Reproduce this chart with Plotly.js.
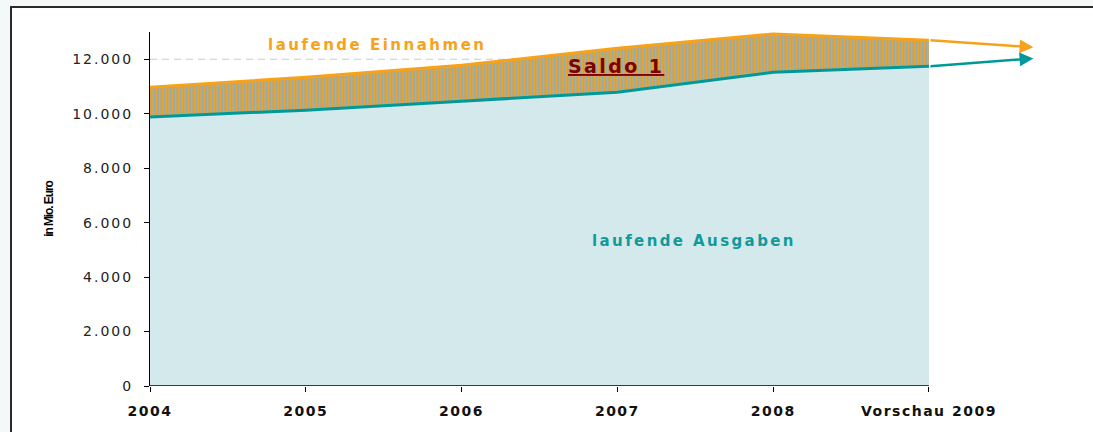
<!DOCTYPE html>
<html>
<head>
<meta charset="utf-8">
<script src="https://cdn.plot.ly/plotly-3.0.1.min.js"></script>
<style>
  html, body { margin:0; padding:0; background:#F3F8F8; width:1093px; height:432px; overflow:hidden; }
  #frame { position:absolute; left:10px; top:6px; width:1100px; height:440px; background:#ffffff; border:2px solid #2b2b2b; }
  #chart { position:absolute; left:0; top:0; width:1093px; height:432px; }
  .xtick text { letter-spacing:1.5px; }
  .ytick text { letter-spacing:2px; }
  .ytitle { letter-spacing:-1.1px; }
</style>
</head>
<body>
<div id="frame"></div>
<div id="chart"></div>
<script>
// Data (Mio. Euro)
const years = [2004, 2005, 2006, 2007, 2008, 2009];
const yearLabels = ['2004', '2005', '2006', '2007', '2008', 'Vorschau 2009'];
const einnahmen = [10970, 11340, 11780, 12400, 12930, 12700];   // laufende Einnahmen
const ausgaben  = [9880, 10130, 10460, 10790, 11520, 11740];    // laufende Ausgaben
// Trend arrows beyond the forecast year
const trendYear = 2009.67;
const einnahmenTrend = 12440;
const ausgabenTrend = 12030;
// y-axis grid values
const gridValues = [2000, 4000, 6000, 8000, 10000, 12000];

const orange = '#F7A21B';
const teal = '#00999A';

const traces = [
  {
    x: years, y: ausgaben, type: 'scatter', mode: 'lines',
    name: 'laufende Ausgaben',
    line: { color: teal, width: 3 },
    fill: 'tozeroy', fillcolor: '#D4E9EC',
    hoverinfo: 'skip', showlegend: false
  },
  {
    x: years, y: einnahmen, type: 'scatter', mode: 'lines',
    name: 'laufende Einnahmen',
    line: { color: orange, width: 3 },
    fill: 'tonexty',
    fillpattern: { shape: '|', bgcolor: orange, fgcolor: '#93ACAE', size: 3.2, solidity: 0.55 },
    hoverinfo: 'skip', showlegend: false
  }
];

const last = years.length - 1;
const shapes = gridValues.map(v => ({
  type: 'line', xref: 'x', yref: 'y', x0: years[0], x1: years[last], y0: v, y1: v,
  line: { color: '#C9C9C9', width: 1, dash: '7px,5px' }, layer: 'below'
}));
shapes.push({ type: 'line', xref: 'x', yref: 'y', x0: years[0], x1: years[last], y0: 0, y1: 0,
  line: { color: '#000', width: 1.5 }, layer: 'above' });

const layout = {
  width: 1093, height: 432,
  margin: { l: 150, r: 55, t: 32, b: 46 },
  paper_bgcolor: 'rgba(0,0,0,0)',
  plot_bgcolor: 'rgba(0,0,0,0)',
  separators: ',.',
  font: { family: 'DejaVu Sans, Arial, sans-serif', color: '#1a1a1a' },
  xaxis: {
    range: [2004, 2009.7],
    tickvals: years, ticktext: yearLabels,
    ticks: 'outside', ticklen: 5, tickcolor: '#000', tickwidth: 1,
    ticklabelstandoff: 7,
    tickfont: { family: 'DejaVu Sans, Arial, sans-serif', size: 14, weight: 'bold', color: '#111' },
    showline: false, showgrid: false, zeroline: false, fixedrange: true
  },
  yaxis: {
    range: [0, 13000], dtick: 2000, tick0: 0,
    tickformat: ',d',
    ticks: 'outside', ticklen: 5, tickcolor: '#000', tickwidth: 1,
    ticklabelstandoff: 8,
    tickfont: { family: 'DejaVu Sans, Arial, sans-serif', size: 14, color: '#222' },
    showline: true, linecolor: '#000', linewidth: 1,
    showgrid: false, zeroline: false, fixedrange: true,
    title: { text: 'in Mio. Euro', standoff: 16,
             font: { family: 'Liberation Sans, Arial, sans-serif', size: 12, weight: 'bold', color: '#000' } }
  },
  shapes: shapes,
  annotations: [
    { x: trendYear, y: einnahmenTrend, ax: years[last], ay: einnahmen[last], axref: 'x', ayref: 'y',
      xref: 'x', yref: 'y', text: '', showarrow: true, arrowhead: 2, arrowsize: 1.1, arrowwidth: 2.5,
      arrowcolor: orange, standoff: 0 },
    { x: trendYear, y: ausgabenTrend, ax: years[last], ay: ausgaben[last], axref: 'x', ayref: 'y',
      xref: 'x', yref: 'y', text: '', showarrow: true, arrowhead: 2, arrowsize: 1.1, arrowwidth: 2.5,
      arrowcolor: teal, standoff: 0 },
    { x: 2005.46, y: 12520, xref: 'x', yref: 'y', showarrow: false,
      text: '<span style="letter-spacing:2.5px">laufende Einnahmen</span>',
      font: { family: 'DejaVu Sans, Arial, sans-serif', size: 15, weight: 'bold', color: orange } },
    { x: 2006.99, y: 11740, xref: 'x', yref: 'y', showarrow: false,
      text: '<span style="letter-spacing:2.4px">Saldo 1</span>',
      font: { family: 'DejaVu Sans, Arial, sans-serif', size: 19, weight: 'bold', color: '#800000', lineposition: 'under' } },
    { x: 2007.49, y: 5320, xref: 'x', yref: 'y', showarrow: false,
      text: '<span style="letter-spacing:2.4px">laufende Ausgaben</span>',
      font: { family: 'DejaVu Sans, Arial, sans-serif', size: 15, weight: 'bold', color: '#12999A' } }
  ]
};

Plotly.newPlot('chart', traces, layout, { displayModeBar: false, staticPlot: true });
</script>
</body>
</html>
